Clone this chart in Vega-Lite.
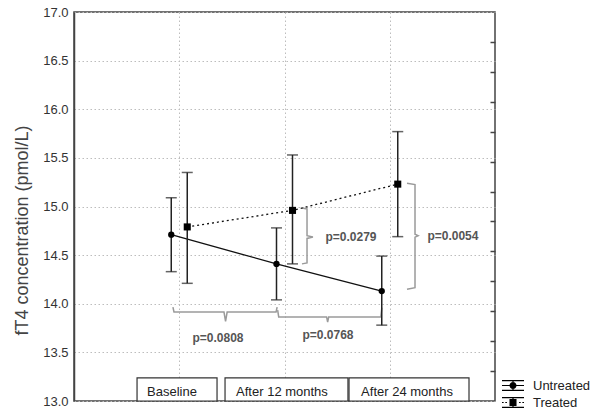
{
  "$schema": "https://vega.github.io/schema/vega-lite/v6.json",
  "width": 421,
  "height": 389,
  "autosize": {"type": "none"},
  "padding": {"left": 74, "top": 12, "right": 95, "bottom": 8},
  "background": "white",
  "config": {
    "view": {"stroke": "#444", "strokeWidth": 1.5},
    "font": "Liberation Sans",
    "legend": {
      "orient": "none", "legendX": 427, "legendY": 365, "title": null, "padding": 0,
      "labelFont": "Liberation Sans", "labelFontSize": 13, "labelColor": "#222",
      "symbolSize": 484, "rowPadding": 0, "clipHeight": 17, "labelOffset": 8,
      "symbolFillColor": "black", "symbolOpacity": 1
    }
  },
  "datasets": {
    "series": [
      {"group": "Untreated", "time": "Baseline", "t": 1, "mean": 14.71, "lo": 14.33, "hi": 15.09},
      {"group": "Untreated", "time": "After 12 months", "t": 2, "mean": 14.41, "lo": 14.04, "hi": 14.78},
      {"group": "Untreated", "time": "After 24 months", "t": 3, "mean": 14.13, "lo": 13.78, "hi": 14.49},
      {"group": "Treated", "time": "Baseline", "t": 1, "mean": 14.79, "lo": 14.21, "hi": 15.35},
      {"group": "Treated", "time": "After 12 months", "t": 2, "mean": 14.96, "lo": 14.41, "hi": 15.53},
      {"group": "Treated", "time": "After 24 months", "t": 3, "mean": 15.23, "lo": 14.69, "hi": 15.77}
    ],
    "braces": [
      {"id": "A", "i": 1, "x": 0.94, "y": 13.965},
      {"id": "A", "i": 2, "x": 0.95, "y": 13.915},
      {"id": "A", "i": 3, "x": 1.425, "y": 13.915},
      {"id": "A", "i": 4, "x": 1.44, "y": 13.82},
      {"id": "A", "i": 5, "x": 1.455, "y": 13.915},
      {"id": "A", "i": 6, "x": 1.92, "y": 13.915},
      {"id": "A", "i": 7, "x": 1.93, "y": 13.965},
      {"id": "B", "i": 1, "x": 1.935, "y": 13.935},
      {"id": "B", "i": 2, "x": 1.945, "y": 13.864},
      {"id": "B", "i": 3, "x": 2.40, "y": 13.864},
      {"id": "B", "i": 4, "x": 2.41, "y": 13.81},
      {"id": "B", "i": 5, "x": 2.42, "y": 13.864},
      {"id": "B", "i": 6, "x": 2.915, "y": 13.864},
      {"id": "B", "i": 7, "x": 2.925, "y": 13.96},
      {"id": "C", "i": 1, "x": 2.166, "y": 14.985},
      {"id": "C", "i": 2, "x": 2.214, "y": 14.975},
      {"id": "C", "i": 3, "x": 2.214, "y": 14.70},
      {"id": "C", "i": 4, "x": 2.27, "y": 14.686},
      {"id": "C", "i": 5, "x": 2.214, "y": 14.672},
      {"id": "C", "i": 6, "x": 2.214, "y": 14.42},
      {"id": "C", "i": 7, "x": 2.166, "y": 14.41},
      {"id": "D", "i": 1, "x": 3.164, "y": 15.24},
      {"id": "D", "i": 2, "x": 3.24, "y": 15.225},
      {"id": "D", "i": 3, "x": 3.24, "y": 14.715},
      {"id": "D", "i": 4, "x": 3.27, "y": 14.70},
      {"id": "D", "i": 5, "x": 3.24, "y": 14.685},
      {"id": "D", "i": 6, "x": 3.24, "y": 14.165},
      {"id": "D", "i": 7, "x": 3.164, "y": 14.15}
    ],
    "plabels": [
      {"label": "p=0.0808", "x": 1.368, "y": 13.65},
      {"label": "p=0.0768", "x": 2.413, "y": 13.68},
      {"label": "p=0.0279", "x": 2.632, "y": 14.69},
      {"label": "p=0.0054", "x": 3.60, "y": 14.70}
    ],
    "boxes": [
      {"label": "Baseline", "x0": 0.599, "x1": 1.359, "xt": 0.931, "y0": 13.0, "y1": 13.237, "yt": 13.093},
      {"label": "After 12 months", "x0": 1.435, "x1": 2.603, "xt": 1.976, "y0": 13.0, "y1": 13.237, "yt": 13.093},
      {"label": "After 24 months", "x0": 2.613, "x1": 3.753, "xt": 3.164, "y0": 13.0, "y1": 13.237, "yt": 13.093}
    ]
  },
  "resolve": {"axis": {"y": "independent"}},
  "layer": [
    {
      "data": {"name": "braces"},
      "mark": {"type": "line", "color": "#9a9a9a", "strokeWidth": 1.5},
      "encoding": {
        "x": {"field": "x", "type": "quantitative", "scale": {"domain": [0, 4], "nice": false, "zero": false},
          "axis": {"values": [1, 2, 3], "labels": false, "ticks": false, "domain": false, "grid": true,
            "gridDash": [1.5, 2.5], "gridColor": "#bdbdbd", "gridWidth": 1, "title": null}},
        "y": {"field": "y", "type": "quantitative", "scale": {"domain": [13, 17], "nice": false, "zero": false},
          "axis": {"values": [13, 13.5, 14, 14.5, 15, 15.5, 16, 16.5, 17], "format": ".1f",
            "labelFont": "Liberation Sans", "labelFontSize": 13, "labelColor": "#333", "ticks": false, "labelPadding": 6,
            "domainColor": "#444", "domainWidth": 1.5, "grid": true, "gridDash": [1.5, 2.5], "gridColor": "#bdbdbd", "gridWidth": 1,
            "title": "fT4 concentration (pmol/L)", "titleFont": "Liberation Sans", "titleFontSize": 18, "titleFontWeight": "normal",
            "titleColor": "#444", "titleX": -52, "titleY": 218, "titleAlign": "center", "titleBaseline": "middle"}},
        "detail": {"field": "id"},
        "order": {"field": "i", "type": "quantitative"}
      }
    },
    {
      "data": {"name": "boxes"},
      "mark": {"type": "rect", "fill": "white", "stroke": "#333", "strokeWidth": 1.2},
      "encoding": {
        "x": {"field": "x0", "type": "quantitative"},
        "x2": {"field": "x1"},
        "y": {"field": "y0", "type": "quantitative",
          "axis": {"orient": "right", "values": [13.3077, 13.6154, 13.9231, 14.2308, 14.5385, 14.8462, 15.1538, 15.4615, 15.7692, 16.0769, 16.3846, 16.6923],
            "labels": false, "domain": false, "grid": false, "ticks": true, "tickSize": -5, "tickColor": "#444", "tickWidth": 1.5, "title": null}},
        "y2": {"field": "y1"}
      }
    },
    {
      "data": {"name": "boxes"},
      "mark": {"type": "text", "font": "Liberation Sans", "fontSize": 13, "color": "#222", "align": "center", "baseline": "middle"},
      "encoding": {
        "x": {"field": "xt", "type": "quantitative"},
        "y": {"field": "yt", "type": "quantitative", "axis": null},
        "text": {"field": "label"}
      }
    },
    {
      "data": {"name": "plabels"},
      "mark": {"type": "text", "font": "Liberation Sans", "fontSize": 12, "fontWeight": "bold", "color": "#555", "align": "center", "baseline": "middle"},
      "encoding": {
        "x": {"field": "x", "type": "quantitative"},
        "y": {"field": "y", "type": "quantitative", "axis": null},
        "text": {"field": "label"}
      }
    },
    {
      "data": {"name": "series"},
      "transform": [{"filter": "datum.group === 'Untreated'"}],
      "encoding": {
        "x": {"field": "t", "type": "quantitative"},
        "y": {"field": "mean", "type": "quantitative", "axis": null}
      },
      "layer": [
        {"mark": {"type": "line", "color": "#111", "strokeWidth": 1.3, "xOffset": -8}},
        {"mark": {"type": "rule", "color": "#222", "strokeWidth": 1.5, "xOffset": -8},
          "encoding": {"y": {"field": "lo", "type": "quantitative", "axis": null}, "y2": {"field": "hi"}}},
        {"mark": {"type": "tick", "orient": "horizontal", "size": 11, "thickness": 1.5, "color": "#222", "xOffset": -8},
          "encoding": {"y": {"field": "lo", "type": "quantitative", "axis": null}}},
        {"mark": {"type": "tick", "orient": "horizontal", "size": 11, "thickness": 1.5, "color": "#222", "xOffset": -8},
          "encoding": {"y": {"field": "hi", "type": "quantitative", "axis": null}}},
        {"mark": {"type": "point", "shape": "circle", "filled": true, "color": "black", "size": 40, "opacity": 1, "xOffset": -8}}
      ]
    },
    {
      "data": {"name": "series"},
      "transform": [{"filter": "datum.group === 'Treated'"}],
      "encoding": {
        "x": {"field": "t", "type": "quantitative"},
        "y": {"field": "mean", "type": "quantitative", "axis": null}
      },
      "layer": [
        {"mark": {"type": "line", "color": "#111", "strokeWidth": 1.3, "strokeDash": [2, 3], "xOffset": 8}},
        {"mark": {"type": "rule", "color": "#222", "strokeWidth": 1.5, "xOffset": 8},
          "encoding": {"y": {"field": "lo", "type": "quantitative", "axis": null}, "y2": {"field": "hi"}}},
        {"mark": {"type": "tick", "orient": "horizontal", "size": 11, "thickness": 1.5, "color": "#222", "xOffset": 8},
          "encoding": {"y": {"field": "lo", "type": "quantitative", "axis": null}}},
        {"mark": {"type": "tick", "orient": "horizontal", "size": 11, "thickness": 1.5, "color": "#222", "xOffset": 8},
          "encoding": {"y": {"field": "hi", "type": "quantitative", "axis": null}}},
        {"mark": {"type": "point", "shape": "square", "filled": true, "color": "black", "size": 50, "opacity": 1, "xOffset": 8}}
      ]
    },
    {
      "data": {"name": "series"},
      "transform": [{"filter": "false"}],
      "mark": {"type": "point", "filled": true, "color": "black"},
      "encoding": {
        "x": {"field": "t", "type": "quantitative"},
        "y": {"field": "mean", "type": "quantitative", "axis": null},
        "shape": {"field": "group", "type": "nominal",
          "scale": {"domain": ["Untreated", "Treated"],
            "range": ["M-1,-0.5H1V-0.39H-1Z M-1,0.39H1V0.5H-1Z M-0.055,-0.45H0.055V0.45H-0.055Z M-1,-0.055H1V0.055H-1Z M-0.32,0A0.32,0.32,0,1,1,0.32,0A0.32,0.32,0,1,1,-0.32,0Z",
                      "M-1,-0.5H1V-0.39H-1Z M-1,0.39H1V0.5H-1Z M-0.055,-0.45H0.055V0.45H-0.055Z M-1,-0.055H-0.85V0.055H-1Z M-0.7,-0.055H-0.55V0.055H-0.7Z M0.55,-0.055H0.7V0.055H0.55Z M0.85,-0.055H1V0.055H0.85Z M-0.32,-0.32H0.32V0.32H-0.32Z"]},
          "legend": {"title": null}}
      }
    }
  ]
}
